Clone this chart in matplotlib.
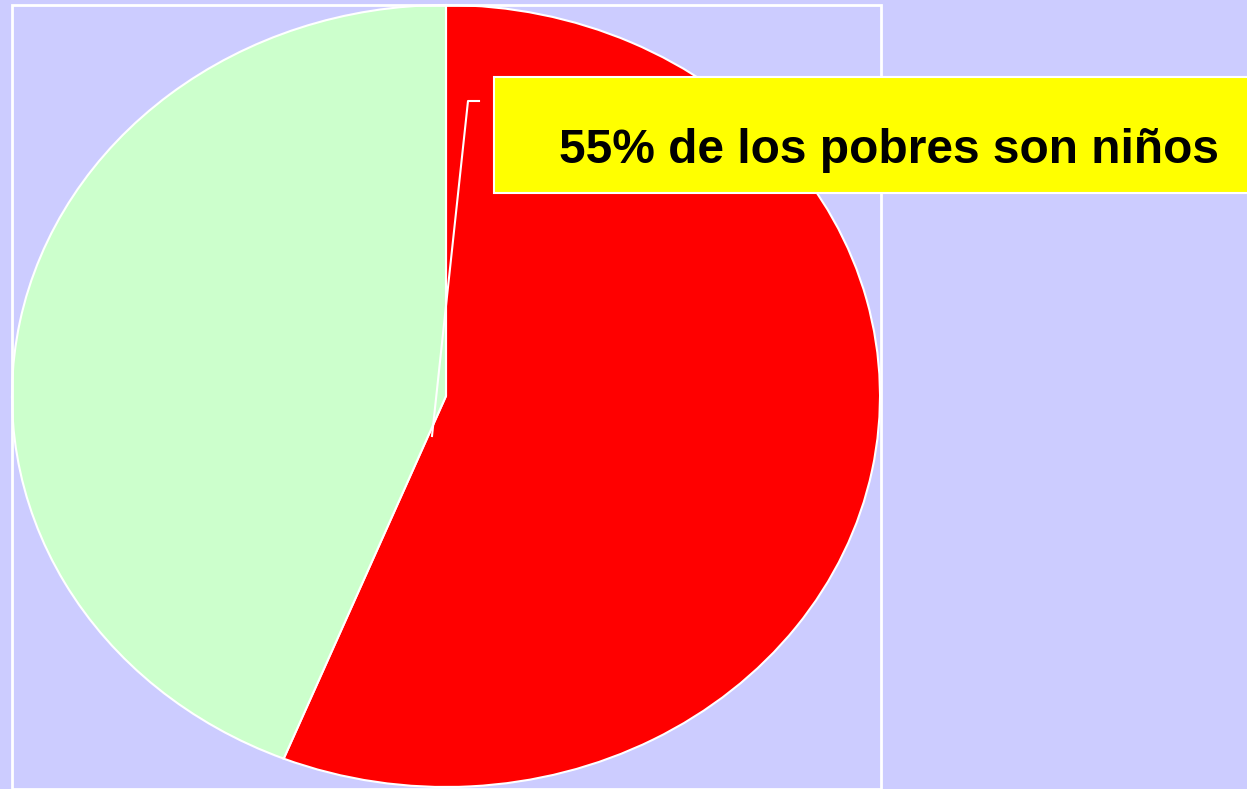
import matplotlib

matplotlib.use("Agg")
import matplotlib.pyplot as plt
from matplotlib.patches import Rectangle
from matplotlib.lines import Line2D

# share of the poor: children vs. others
labels = ["Niños", "Otros"]
shares = [56.1, 43.9]
colors = ["#FF0000", "#CCFFCC"]
caption = "55% de los pobres son niños"

W, H = 1247, 789
BG = "#CCCCFF"


def fx(px):
    return px / W


def fy(py):
    return 1 - py / H


fig = plt.figure(figsize=(W / 100, H / 100), dpi=100)
fig.patch.set_facecolor(BG)

# white plot-area frame
fig.patches.append(Rectangle((fx(12), fy(789)), fx(881) - fx(12), fy(5) - fy(789),
                             transform=fig.transFigure, fill=False,
                             edgecolor="white", linewidth=2))

# pie stretched to the plot area (elliptical, like the original)
ax = fig.add_axes([fx(12), fy(787), fx(880) - fx(12), fy(5) - fy(787)])
ax.pie(shares, colors=colors, startangle=90, counterclock=False,
       wedgeprops={"edgecolor": "white", "linewidth": 1.5})
ax.set_aspect("auto")
ax.set_xlim(-1, 1)
ax.set_ylim(-1, 1)
ax.axis("off")

# leader line
fig.lines.append(Line2D([fx(432), fx(468), fx(479)], [fy(436), fy(101), fy(101)],
                        transform=fig.transFigure, color="white", linewidth=1.5))

# yellow caption box
fig.patches.append(Rectangle((fx(494), fy(193)), fx(1260) - fx(494), fy(77) - fy(193),
                             transform=fig.transFigure, facecolor="#FFFF00",
                             edgecolor="white", linewidth=1.5, clip_on=False))
fig.text(fx(559), fy(163), caption, fontsize=34.5, fontweight="bold",
         family="Liberation Sans", color="black", ha="left", va="baseline")

fig.savefig("out.png", dpi=100, facecolor=BG)
